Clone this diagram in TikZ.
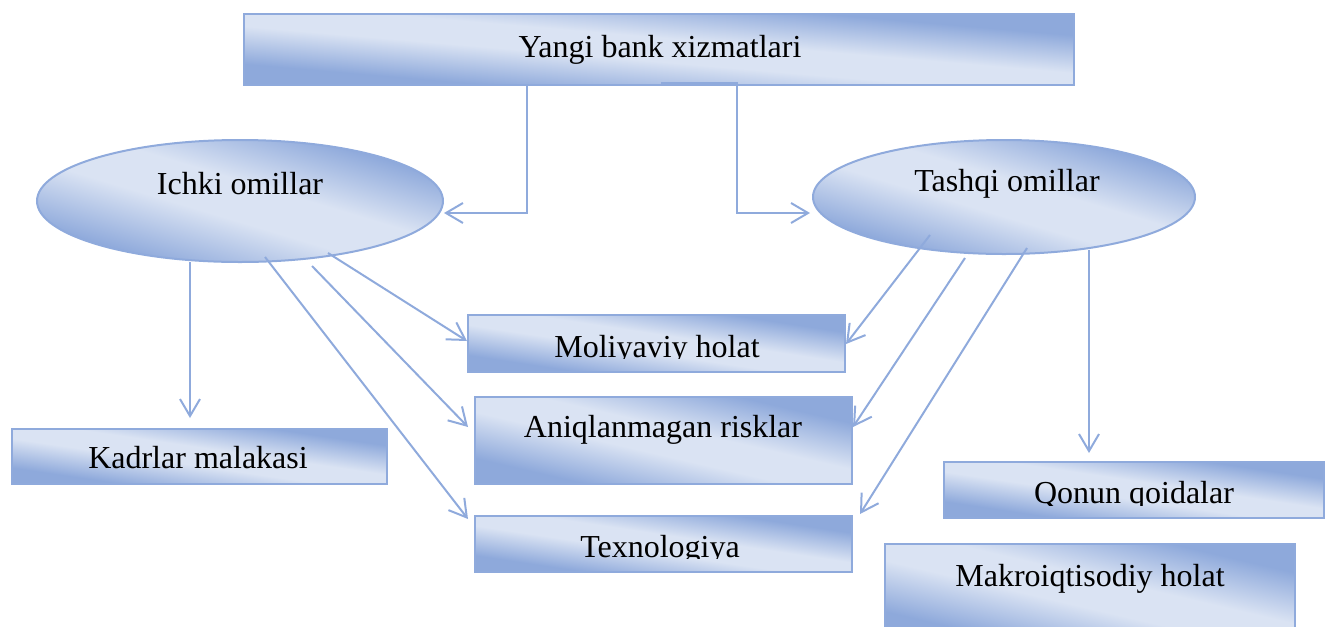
\documentclass[tikz,border=0pt]{standalone}
\usepackage{fontspec}
\setmainfont{Liberation Serif}
\usetikzlibrary{arrows.meta,shapes.geometric,calc}
\definecolor{edgeblue}{RGB}{143,170,220}
\definecolor{shadedark}{RGB}{142,169,219}
\definecolor{shadelight}{RGB}{218,227,243}
\pgfdeclarelayer{background}
\pgfsetlayers{background,main}
% diagonal fill: darker towards two opposite corners, light in between
\pgfdeclareverticalshading{wordfill}{100bp}{%
  color(0bp)=(shadedark); color(25bp)=(shadedark);
  color(44bp)=(shadelight); color(56bp)=(shadelight);
  color(75bp)=(shadedark); color(100bp)=(shadedark)}
% shade a w x h (px) rectangle or ellipse centred on a node, stretched with the shape
\newcommand{\rectfill}[3]{%
  \begin{pgfonlayer}{background}
    \begin{scope}[transform canvas={shift={(#1.center)}, xscale=#2/100, yscale=#3/100}]
      \shade[shading=wordfill, shading angle=135] (-50,-50) rectangle (50,50);
    \end{scope}
  \end{pgfonlayer}}
\newcommand{\ovalfill}[3]{%
  \begin{pgfonlayer}{background}
    \begin{scope}[transform canvas={shift={(#1.center)}, xscale=#2/100, yscale=#3/100}]
      \shade[shading=wordfill, shading angle=135] (0,0) circle [radius=37.5pt];
    \end{scope}
  \end{pgfonlayer}}
\tikzset{
  box/.style={draw=edgeblue, line width=1.5pt, rectangle, inner sep=0pt, outer sep=0pt},
  oval/.style={draw=edgeblue, line width=1.5pt, ellipse, inner sep=0pt, outer sep=0pt},
  lbl/.style={anchor=base, inner sep=0pt, font=\fontsize{24pt}{28pt}\selectfont},
  arr/.style={draw=edgeblue, line width=1.5pt,
    -{Straight Barb[length=12.75pt,width=15pt]}},
}
\begin{document}
\begin{tikzpicture}[x=0.75pt,y=-0.75pt]
\useasboundingbox (0,0) rectangle (1325,626);

% outlined boxes and ovals
\node[box, minimum width=622.5pt, minimum height=53.25pt] (top) at (659,49.5) {};
\node[oval, minimum width=304.5pt, minimum height=91.5pt] (ichki) at (240,201) {};
\node[oval, minimum width=286.5pt, minimum height=85.5pt] (tash) at (1004,197) {};
\node[box, minimum width=282.75pt, minimum height=42.75pt] (mol) at (656.5,343.5) {};
\node[box, minimum width=282.75pt, minimum height=65.25pt] (aniq) at (663.5,440.5) {};
\node[box, minimum width=282.75pt, minimum height=42pt] (texno) at (663.5,544) {};
\node[box, minimum width=281.25pt, minimum height=41.25pt] (kad) at (199.5,456.5) {};
\node[box, minimum width=285pt, minimum height=42pt] (qonun) at (1134,490) {};
\node[box, minimum width=307.5pt, minimum height=72pt] (makro) at (1090,592) {};

% gradient fills behind the outlines
\rectfill{top}{830}{71}
\ovalfill{ichki}{406}{122}
\ovalfill{tash}{382}{114}
\rectfill{mol}{377}{57}
\rectfill{aniq}{377}{87}
\rectfill{texno}{377}{56}
\rectfill{kad}{375}{55}
\rectfill{qonun}{380}{56}
\rectfill{makro}{410}{96}

% labels
\node[lbl] (ttop) at (660,57) {Yangi bank xizmatlari};
\node[lbl] (tichki) at (240,194) {Ichki omillar};
\node[lbl] (ttash) at (1007,191) {Tashqi omillar};
\node[lbl] (taniq) at (663,437) {Aniqlanmagan risklar};
\node[lbl] (tkad) at (198,468) {Kadrlar malakasi};
\node[lbl] (tmakro) at (1090,586) {Makroiqtisodiy holat};
\begin{scope}
  \clip (mol.north west) rectangle ($(mol.south east)+(0,-14)$);
  \node[lbl] (tmol) at (657,357) {Moliyaviy holat};
\end{scope}
\begin{scope}
  \clip (texno.north west) rectangle ($(texno.south east)+(0,-14)$);
  \node[lbl] (ttexno) at (660,557) {Texnologiya};
\end{scope}
\begin{scope}
  \clip (qonun.north west) rectangle ($(qonun.south east)+(0,-12.5)$);
  \node[lbl] (tqonun) at (1134,503.5) {Qonun qoidalar};
\end{scope}

% elbow connectors from the top box
\draw[arr] (top.south) -- ++(-132,0) -- ++(0,128) -- ($(ichki.center)+(204,12)$);
\draw[arr] ($(top.south)+(2,-2.5)$) -- ++(76,0) -- ++(0,130.5) -- ($(tash.center)+(-194,16)$);

% internal factors
\draw[arr] ($(ichki.center)+(-50,61)$) -- ($(kad.north)+(-9.5,-11)$);
\draw[arr] ($(ichki.center)+(88,52)$) -- ($(mol.west)+(-1,-2.5)$);
\draw[arr] ($(ichki.center)+(72,65)$) -- ($(aniq.west)+(-7,-13.5)$);
\draw[arr] ($(ichki.center)+(25,56)$) -- ($(texno.north west)+(-7,3)$);

% external factors
\draw[arr] ($(tash.center)+(-74,38)$) -- ($(mol.east)+(1,0.5)$);
\draw[arr] ($(tash.center)+(-39,61)$) -- ($(aniq.east)+(1,-13.5)$);
\draw[arr] ($(tash.center)+(23,51)$) -- ($(texno.north east)+(8,-2)$);
\draw[arr] ($(tash.center)+(85,53)$) -- ($(qonun.north)+(-45,-9)$);
\end{tikzpicture}
\end{document}
